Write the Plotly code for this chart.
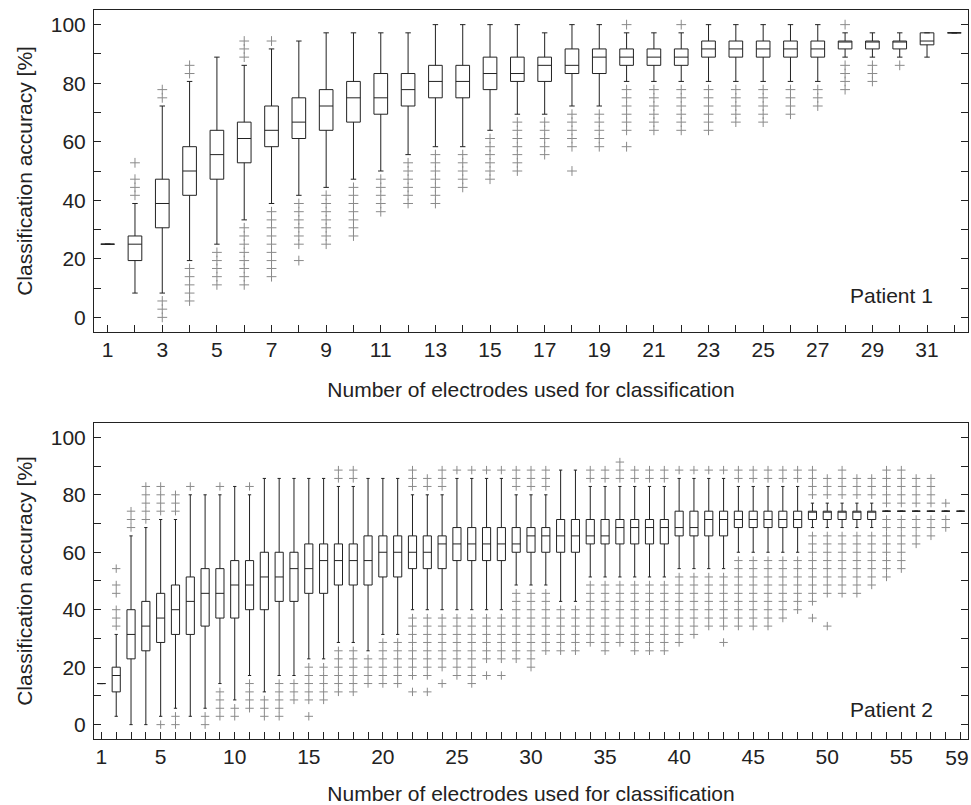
import plotly.graph_objects as go

# ---------------- Patient 1 (32 electrodes) ----------------
p1_x = list(range(1, 33))
p1_low = [25.0, 8.3, 8.3, 19.4, 25.0, 33.3, 38.9, 41.7, 44.4, 47.2, 50.0, 55.6, 58.3, 58.3, 63.9, 69.4,
          69.4, 72.2, 72.2, 80.6, 80.6, 80.6, 80.6, 80.6, 80.6, 80.6, 80.6, 88.9, 88.9, 88.9, 88.9, 97.2]
p1_q1 = [25.0, 19.4, 30.6, 41.7, 47.2, 52.8, 58.3, 61.1, 63.9, 66.7, 69.4, 72.2, 75.0, 75.0, 77.8, 80.6,
         80.6, 83.3, 83.3, 86.1, 86.1, 86.1, 88.9, 88.9, 88.9, 88.9, 88.9, 91.7, 91.7, 91.7, 93.1, 97.2]
p1_med = [25.0, 25.0, 38.9, 50.0, 55.6, 61.1, 63.9, 66.7, 72.2, 75.0, 75.0, 77.8, 80.6, 80.6, 83.3, 83.3,
          86.1, 86.1, 88.9, 88.9, 88.9, 88.9, 91.7, 91.7, 91.7, 91.7, 91.7, 94.4, 94.4, 94.4, 94.4, 97.2]
p1_q3 = [25.0, 27.8, 47.2, 58.3, 63.9, 66.7, 72.2, 75.0, 77.8, 80.6, 83.3, 83.3, 86.1, 86.1, 88.9, 88.9,
         88.9, 91.7, 91.7, 91.7, 91.7, 91.7, 94.4, 94.4, 94.4, 94.4, 94.4, 94.4, 94.4, 94.4, 97.2, 97.2]
p1_high = [25.0, 38.9, 72.2, 80.6, 88.9, 86.1, 91.7, 94.4, 97.2, 97.2, 97.2, 97.2, 100.0, 100.0, 100.0, 100.0,
           97.2, 100.0, 100.0, 97.2, 97.2, 97.2, 100.0, 100.0, 100.0, 100.0, 100.0, 97.2, 97.2, 97.2, 97.2, 97.2]
p1_out = [
    [],
    [41.7, 44.4, 47.2, 52.8],
    [0.0, 2.8, 5.6, 75.0, 77.8],
    [5.6, 8.3, 11.1, 13.9, 16.7, 83.3, 86.1],
    [11.1, 13.9, 16.7, 19.4, 22.2],
    [11.1, 13.9, 16.7, 19.4, 22.2, 25.0, 27.8, 30.6, 88.9, 91.7, 94.4],
    [13.9, 16.7, 19.4, 22.2, 25.0, 27.8, 30.6, 33.3, 36.1, 94.4],
    [19.4, 25.0, 27.8, 30.6, 33.3, 36.1, 38.9],
    [25.0, 27.8, 30.6, 33.3, 36.1, 38.9, 41.7],
    [27.8, 30.6, 33.3, 36.1, 38.9, 41.7, 44.4],
    [36.1, 38.9, 41.7, 44.4, 47.2],
    [38.9, 41.7, 44.4, 47.2, 50.0, 52.8],
    [38.9, 41.7, 44.4, 47.2, 50.0, 52.8, 55.6],
    [44.4, 47.2, 50.0, 52.8, 55.6],
    [47.2, 50.0, 52.8, 55.6, 58.3, 61.1],
    [50.0, 52.8, 55.6, 58.3, 61.1, 63.9, 66.7],
    [55.6, 58.3, 61.1, 63.9, 66.7],
    [50.0, 58.3, 61.1, 63.9, 66.7, 69.4],
    [58.3, 61.1, 63.9, 66.7, 69.4],
    [58.3, 63.9, 66.7, 69.4, 72.2, 75.0, 77.8, 100.0],
    [63.9, 66.7, 69.4, 72.2, 75.0, 77.8],
    [63.9, 66.7, 69.4, 72.2, 75.0, 77.8, 100.0],
    [63.9, 66.7, 69.4, 72.2, 75.0, 77.8],
    [66.7, 69.4, 72.2, 75.0, 77.8],
    [66.7, 69.4, 72.2, 75.0, 77.8],
    [69.4, 72.2, 75.0, 77.8],
    [72.2, 75.0, 77.8],
    [77.8, 80.6, 83.3, 86.1, 100.0],
    [80.6, 83.3, 86.1],
    [86.1],
    [],
    [],
]
p1_tick_labels = [str(v) if v % 2 == 1 else "" for v in p1_x]

# ---------------- Patient 2 (59 electrodes) ----------------
p2_x = list(range(1, 60))
p2_low = [14.3, 2.9, 0.0, 0.0, 2.9, 5.7, 2.9, 5.7, 14.3, 8.6, 17.1, 11.4, 17.1, 17.1, 22.9, 22.9,
          28.6, 28.6, 25.7, 31.4, 31.4, 40.0, 40.0, 40.0, 40.0, 40.0, 40.0, 40.0, 48.6, 48.6, 48.6,
          42.9, 42.9, 51.4, 51.4, 51.4, 51.4, 51.4, 51.4, 54.3, 54.3, 54.3, 54.3, 60.0, 60.0, 60.0,
          60.0, 60.0, 68.6, 68.6, 68.6, 68.6, 68.6, 74.3, 74.3, 74.3, 74.3, 74.3, 74.3]
p2_q1 = [14.3, 11.4, 22.9, 25.7, 28.6, 31.4, 31.4, 34.3, 37.1, 37.1, 40.0, 40.0, 42.9, 42.9, 45.7, 45.7,
         48.6, 48.6, 48.6, 51.4, 51.4, 54.3, 54.3, 54.3, 57.1, 57.1, 57.1, 57.1, 60.0, 60.0, 60.0,
         60.0, 60.0, 62.9, 62.9, 62.9, 62.9, 62.9, 62.9, 65.7, 65.7, 65.7, 65.7, 68.6, 68.6, 68.6,
         68.6, 68.6, 71.4, 71.4, 71.4, 71.4, 71.4, 74.3, 74.3, 74.3, 74.3, 74.3, 74.3]
p2_med = [14.3, 17.1, 31.4, 34.3, 37.1, 40.0, 42.9, 45.7, 45.7, 48.6, 48.6, 51.4, 51.4, 54.3, 54.3, 57.1,
          57.1, 57.1, 57.1, 60.0, 60.0, 60.0, 60.0, 62.9, 62.9, 62.9, 62.9, 62.9, 62.9, 65.7, 65.7,
          65.7, 65.7, 65.7, 65.7, 68.6, 68.6, 68.6, 68.6, 68.6, 68.6, 71.4, 71.4, 71.4, 71.4, 71.4,
          71.4, 71.4, 74.3, 74.3, 74.3, 74.3, 74.3, 74.3, 74.3, 74.3, 74.3, 74.3, 74.3]
p2_q3 = [14.3, 20.0, 40.0, 42.9, 45.7, 48.6, 51.4, 54.3, 54.3, 57.1, 57.1, 60.0, 60.0, 60.0, 62.9, 62.9,
         62.9, 62.9, 65.7, 65.7, 65.7, 65.7, 65.7, 65.7, 68.6, 68.6, 68.6, 68.6, 68.6, 68.6, 68.6,
         71.4, 71.4, 71.4, 71.4, 71.4, 71.4, 71.4, 71.4, 74.3, 74.3, 74.3, 74.3, 74.3, 74.3, 74.3,
         74.3, 74.3, 74.3, 74.3, 74.3, 74.3, 74.3, 74.3, 74.3, 74.3, 74.3, 74.3, 74.3]
p2_high = [14.3, 31.4, 65.7, 68.6, 71.4, 71.4, 80.0, 80.0, 80.0, 82.9, 80.0, 85.7, 85.7, 85.7, 85.7, 85.7,
           82.9, 82.9, 85.7, 85.7, 85.7, 80.0, 80.0, 80.0, 85.7, 85.7, 85.7, 85.7, 80.0, 80.0, 80.0,
           88.6, 88.6, 82.9, 82.9, 82.9, 82.9, 82.9, 82.9, 85.7, 85.7, 85.7, 85.7, 82.9, 82.9, 82.9,
           82.9, 82.9, 77.1, 77.1, 77.1, 77.1, 77.1, 74.3, 74.3, 74.3, 74.3, 74.3, 74.3]
p2_out = [
    [],
    [34.3, 37.1, 40.0, 45.7, 48.6, 54.3],
    [68.6, 71.4, 74.3],
    [71.4, 74.3, 77.1, 80.0, 82.9],
    [0.0, 74.3, 77.1, 80.0, 82.9],
    [0.0, 2.9, 74.3, 77.1, 80.0],
    [82.9],
    [0.0, 2.9],
    [2.9, 5.7, 8.6, 11.4, 82.9],
    [2.9, 5.7],
    [5.7, 8.6, 11.4, 14.3, 82.9],
    [2.9, 5.7, 8.6],
    [2.9, 5.7, 8.6, 11.4, 14.3],
    [8.6, 11.4, 14.3],
    [2.9, 8.6, 11.4, 14.3, 17.1, 20.0],
    [8.6, 11.4, 14.3, 17.1, 20.0],
    [11.4, 14.3, 17.1, 20.0, 22.9, 25.7, 85.7, 88.6],
    [11.4, 14.3, 17.1, 20.0, 22.9, 25.7, 85.7, 88.6],
    [14.3, 17.1, 20.0, 22.9],
    [14.3, 17.1, 20.0, 22.9, 25.7, 28.6],
    [14.3, 17.1, 20.0, 22.9, 25.7, 28.6],
    [11.4, 17.1, 20.0, 22.9, 25.7, 28.6, 31.4, 34.3, 37.1, 82.9, 85.7, 88.6],
    [11.4, 17.1, 20.0, 22.9, 25.7, 28.6, 31.4, 34.3, 37.1, 82.9, 85.7],
    [14.3, 20.0, 22.9, 25.7, 28.6, 31.4, 34.3, 37.1, 82.9, 85.7, 88.6],
    [17.1, 20.0, 22.9, 25.7, 28.6, 31.4, 34.3, 37.1, 88.6],
    [14.3, 17.1, 20.0, 22.9, 25.7, 28.6, 31.4, 34.3, 37.1, 88.6],
    [17.1, 22.9, 25.7, 28.6, 31.4, 34.3, 37.1, 88.6],
    [17.1, 22.9, 25.7, 28.6, 31.4, 34.3, 37.1, 88.6],
    [22.9, 25.7, 28.6, 31.4, 34.3, 37.1, 40.0, 42.9, 45.7, 82.9, 85.7, 88.6],
    [20.0, 22.9, 25.7, 28.6, 31.4, 34.3, 37.1, 40.0, 42.9, 45.7, 82.9, 85.7, 88.6],
    [25.7, 28.6, 31.4, 34.3, 37.1, 40.0, 42.9, 45.7, 82.9, 85.7, 88.6],
    [25.7, 28.6, 31.4, 34.3, 37.1, 40.0],
    [25.7, 28.6, 31.4, 34.3, 37.1, 40.0],
    [28.6, 31.4, 34.3, 37.1, 40.0, 42.9, 45.7, 48.6, 85.7, 88.6],
    [25.7, 28.6, 31.4, 34.3, 37.1, 40.0, 42.9, 45.7, 48.6, 85.7, 88.6],
    [28.6, 31.4, 34.3, 37.1, 40.0, 42.9, 45.7, 48.6, 85.7, 88.6, 91.4],
    [25.7, 28.6, 31.4, 34.3, 37.1, 40.0, 42.9, 45.7, 48.6, 85.7, 88.6],
    [25.7, 28.6, 31.4, 34.3, 37.1, 40.0, 42.9, 45.7, 48.6, 85.7, 88.6],
    [25.7, 28.6, 31.4, 34.3, 37.1, 40.0, 42.9, 45.7, 48.6, 85.7, 88.6],
    [28.6, 31.4, 34.3, 37.1, 40.0, 42.9, 45.7, 48.6, 51.4, 88.6],
    [31.4, 34.3, 37.1, 40.0, 42.9, 45.7, 48.6, 51.4, 88.6],
    [34.3, 37.1, 40.0, 42.9, 45.7, 48.6, 51.4, 88.6],
    [28.6, 34.3, 37.1, 40.0, 42.9, 45.7, 48.6, 51.4, 88.6],
    [34.3, 37.1, 40.0, 42.9, 45.7, 48.6, 51.4, 54.3, 57.1, 85.7, 88.6],
    [34.3, 37.1, 40.0, 42.9, 45.7, 48.6, 51.4, 54.3, 57.1, 85.7, 88.6],
    [34.3, 37.1, 40.0, 42.9, 45.7, 48.6, 51.4, 54.3, 57.1, 85.7, 88.6],
    [37.1, 40.0, 42.9, 45.7, 48.6, 51.4, 54.3, 57.1, 85.7, 88.6],
    [40.0, 42.9, 45.7, 48.6, 51.4, 54.3, 57.1, 85.7, 88.6],
    [37.1, 42.9, 45.7, 48.6, 51.4, 54.3, 57.1, 60.0, 62.9, 65.7, 80.0, 82.9, 85.7, 88.6],
    [34.3, 45.7, 48.6, 51.4, 54.3, 57.1, 60.0, 62.9, 65.7, 80.0, 82.9, 85.7],
    [45.7, 48.6, 51.4, 54.3, 57.1, 60.0, 62.9, 65.7, 80.0, 82.9, 85.7, 88.6],
    [45.7, 48.6, 51.4, 54.3, 57.1, 60.0, 62.9, 65.7, 80.0, 82.9, 85.7],
    [48.6, 51.4, 54.3, 57.1, 60.0, 62.9, 65.7, 80.0, 82.9, 85.7],
    [51.4, 54.3, 57.1, 60.0, 62.9, 65.7, 68.6, 71.4, 77.1, 80.0, 82.9, 85.7, 88.6],
    [54.3, 57.1, 60.0, 62.9, 65.7, 68.6, 71.4, 77.1, 80.0, 82.9, 85.7, 88.6],
    [62.9, 65.7, 68.6, 71.4, 77.1, 80.0, 82.9, 85.7],
    [65.7, 68.6, 71.4, 77.1, 80.0, 82.9, 85.7],
    [68.6, 71.4, 77.1],
    [],
]
p2_labelled = [1, 5, 10, 15, 20, 25, 30, 35, 40, 45, 50, 55]
p2_tick_labels = [str(v) if v in p2_labelled else "" for v in p2_x]
p2_last_val = [59]
p2_last_label = ["59"]

y_tick_vals = [0, 10, 20, 30, 40, 50, 60, 70, 80, 90, 100]
y_tick_labels = ["0", "", "20", "", "40", "", "60", "", "80", "", "100"]

x_title = "Number of electrodes used for classification"
y_title = "Classification accuracy [%]"
panel_labels = ["Patient 1", "Patient 2"]

FONT = "Liberation Sans, Arial, Helvetica, sans-serif"
FS = 21
LINE = "#222222"
OUTC = "#8a8a8a"


def flatten(xs, outs):
    ox, oy = [], []
    for xv, lst in zip(xs, outs):
        for v in lst:
            ox.append(xv)
            oy.append(v)
    return ox, oy


fig = go.Figure()

box_style = dict(fillcolor="rgba(255,255,255,0)", line=dict(color=LINE, width=1),
                 whiskerwidth=0.4, boxpoints=False, hoverinfo="skip", showlegend=False)

fig.add_trace(go.Box(x=p1_x, q1=p1_q1, median=p1_med, q3=p1_q3, lowerfence=p1_low,
                     upperfence=p1_high, width=0.5, xaxis="x", yaxis="y", **box_style))
ox, oy = flatten(p1_x, p1_out)
fig.add_trace(go.Scatter(x=ox, y=oy, mode="markers", xaxis="x", yaxis="y", showlegend=False,
                         hoverinfo="skip",
                         marker=dict(symbol="cross-thin", size=7, line=dict(color=OUTC, width=1))))

fig.add_trace(go.Box(x=p2_x, q1=p2_q1, median=p2_med, q3=p2_q3, lowerfence=p2_low,
                     upperfence=p2_high, width=0.55, xaxis="x2", yaxis="y2", **box_style))
ox, oy = flatten(p2_x, p2_out)
fig.add_trace(go.Scatter(x=ox, y=oy, mode="markers", xaxis="x2", yaxis="y2", showlegend=False,
                         hoverinfo="skip",
                         marker=dict(symbol="cross-thin", size=6, line=dict(color=OUTC, width=1))))
# invisible helper trace so the overlay axis that carries the last label is drawn
fig.add_trace(go.Scatter(x=p2_last_val, y=[None], mode="markers", xaxis="x3", yaxis="y2",
                         showlegend=False, hoverinfo="skip", marker=dict(opacity=0)))

common_axis = dict(showline=True, linecolor=LINE, linewidth=1, ticks="inside", ticklen=7,
                   tickcolor=LINE, tickwidth=1, showgrid=False, zeroline=False,
                   tickfont=dict(family=FONT, size=FS, color="#222"), automargin=False)

fig.update_layout(
    width=971, height=805,
    margin=dict(l=94, r=3, t=10, b=66),
    paper_bgcolor="white", plot_bgcolor="white",
    font=dict(family=FONT, size=FS, color="#222"),
    xaxis=dict(domain=[0, 1], anchor="y", range=[0.5, 32.5], tickmode="array",
               tickvals=p1_x, ticktext=p1_tick_labels, mirror=True, ticklabelstandoff=-1,
               title=dict(text=x_title, font=dict(family=FONT, size=FS), standoff=22),
               **common_axis),
    yaxis=dict(domain=[0.5583, 1], anchor="x", range=[-5, 105], tickmode="array",
               tickvals=y_tick_vals, ticktext=y_tick_labels, mirror="ticks", ticklabelstandoff=3,
               title=dict(text=y_title, font=dict(family=FONT, size=FS), standoff=12),
               **common_axis),
    xaxis2=dict(domain=[0, 1], anchor="y2", range=[0.5, 59.5], tickmode="array",
                tickvals=p2_x, ticktext=p2_tick_labels, mirror=True, ticklabelstandoff=-1,
                title=dict(text=x_title, font=dict(family=FONT, size=FS), standoff=23),
                **common_axis),
    # overlay axis carrying only the "59" label, right-aligned to its tick like the original
    xaxis3=dict(domain=[0, 1], anchor="y2", overlaying="x2", side="bottom", range=[0.5, 59.5],
                tickmode="array", tickvals=p2_last_val, ticktext=p2_last_label,
                ticklabelposition="outside left", ticklabelshift=8, ticklabelstandoff=4,
                ticks="", showline=False, showgrid=False, zeroline=False,
                tickfont=dict(family=FONT, size=FS, color="#222"), automargin=False),
    yaxis2=dict(domain=[0, 0.4335], anchor="x2", range=[-5, 105], tickmode="array",
                tickvals=y_tick_vals, ticktext=y_tick_labels, mirror="ticks", ticklabelstandoff=3,
                title=dict(text=y_title, font=dict(family=FONT, size=FS), standoff=12),
                **common_axis),
    annotations=[
        dict(text=panel_labels[0], xref="x domain", yref="y domain", x=0.962, y=0.112,
             xanchor="right", yanchor="middle", showarrow=False,
             font=dict(family=FONT, size=FS, color="#222")),
        dict(text=panel_labels[1], xref="x2 domain", yref="y2 domain", x=0.962, y=0.092,
             xanchor="right", yanchor="middle", showarrow=False,
             font=dict(family=FONT, size=FS, color="#222")),
    ],
)

# remove the browser's default 8px page margin so the figure fills the 971x805 window exactly
fig.write_html("out.html", config={"displayModeBar": False},
               post_script="document.body.style.margin='0';document.body.style.overflow='hidden';")
